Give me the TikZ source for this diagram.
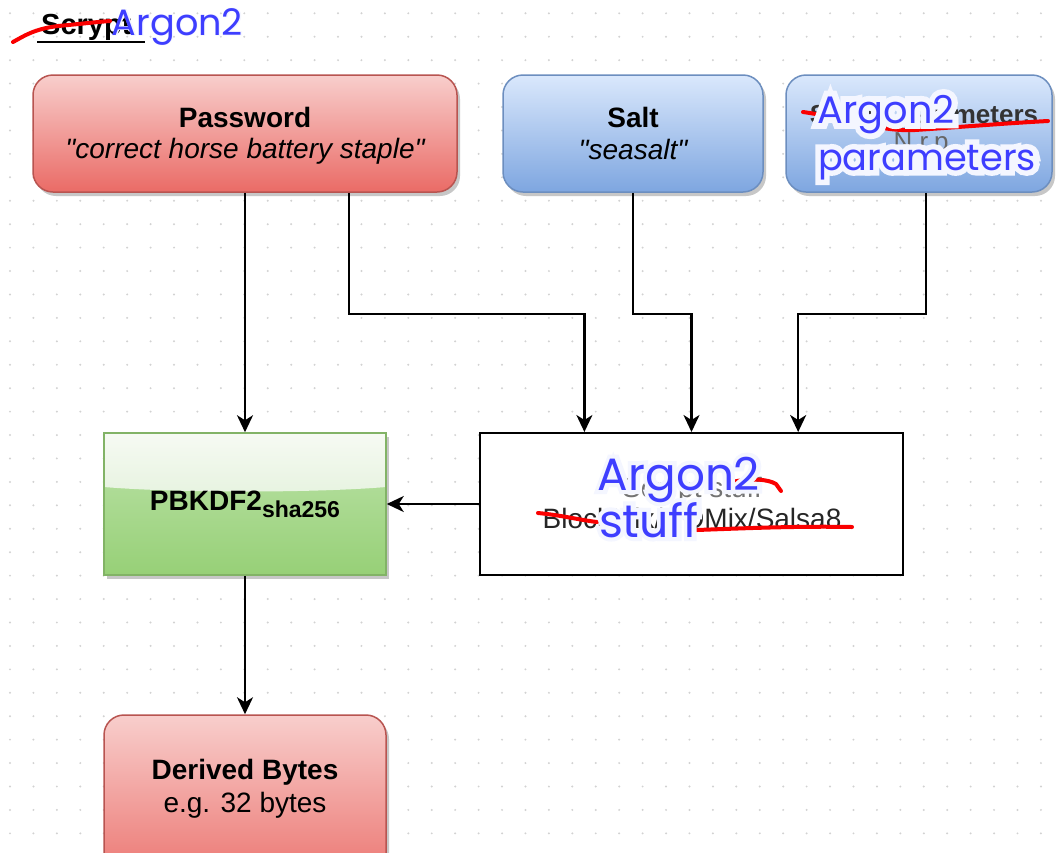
\documentclass[tikz,border=0pt]{standalone}
\usepackage{fontspec}
\setmainfont{Liberation Sans}
\newfontfamily\handfont{Poppins}
\newfontfamily\halothin[FakeBold=3]{Poppins}
\newfontfamily\halomid[FakeBold=18]{Poppins}
\newfontfamily\halothick[FakeBold=30]{Poppins}
\usetikzlibrary{arrows.meta,calc,shadows}

\definecolor{redtop}{HTML}{F8CECC}
\definecolor{redbot}{HTML}{EA6B66}
\definecolor{redline}{HTML}{B85450}
\definecolor{bluetop}{HTML}{DAE8FC}
\definecolor{bluebot}{HTML}{7EA6E0}
\definecolor{blueline}{HTML}{6C8EBF}
\definecolor{greentop}{HTML}{BDE3AA}
\definecolor{greenbot}{HTML}{97D077}
\definecolor{greenline}{HTML}{82B366}
\definecolor{glasstop}{HTML}{F6FAF3}
\definecolor{glassbot}{HTML}{D3EAC7}
\definecolor{dotgray}{HTML}{D2D2D2}
\definecolor{inkblue}{RGB}{62,62,255}
\definecolor{inkred}{RGB}{250,0,0}
\definecolor{halo}{HTML}{F4F6FF}

% blue handwriting with a pale halo underneath: #1 width, #2 halo font, #3 text
\newcommand\inked[3]{\resizebox{#1}{!}{\rlap{\color{halo}#2#3}{\color{inkblue}\handfont #3}}}

\tikzset{
  box/.style={inner sep=0pt, line width=1.5pt},
  shadowed/.style={drop shadow={shadow xshift=3pt, shadow yshift=-4pt, fill=black!22, opacity=1}},
  redbox/.style={box, shadowed, rounded corners=20pt, draw=redline, top color=redtop, bottom color=redbot},
  bluebox/.style={box, shadowed, rounded corners=20pt, draw=blueline, top color=bluetop, bottom color=bluebot},
  kdfbox/.style={box, shadowed, draw=greenline, top color=greentop, bottom color=greenbot},
  plainbox/.style={box, draw=black, fill=white, line width=2pt},
  wire/.style={line width=2.2pt, -{Stealth[length=17pt,width=16pt,inset=5pt]}},
  lbl/.style={inner sep=0pt, anchor=base},
  boldtxt/.style={lbl, font=\bfseries\fontsize{28}{31}\selectfont},
  plaintxt/.style={lbl, font=\fontsize{28}{31}\selectfont},
  itatxt/.style={lbl, font=\itshape\fontsize{28}{31}\selectfont},
  hand/.style={inner sep=0pt, anchor=base},
  scribble/.style={line width=4pt, draw=inkred, line cap=round, line join=round}
}

\begin{document}
\begin{tikzpicture}[x=1pt, y=-1pt]
\path[use as bounding box, clip] (0,0) rectangle (1056,852);
\fill[white] (0,0) rectangle (1056,852);

% dotted page grid
\foreach \i in {0,...,44}{
  \foreach \j in {0,...,36}{
    \fill[dotgray] ({10+23.43*\i},{13.3+23.43*\j}) circle (1.1pt);
  }
}

% boxes
\node[redbox, minimum width=424pt, minimum height=117pt] (pw) at (245,133.5) {};
\node[bluebox, minimum width=260pt, minimum height=117pt] (salt) at (633,133.5) {};
\node[bluebox, minimum width=266pt, minimum height=117pt] (par) at (919,133.5) {};
\node[kdfbox, minimum width=282pt, minimum height=142pt,
  path picture={
    \shade[top color=glasstop, bottom color=glassbot]
      (path picture bounding box.north west) -- (path picture bounding box.north east)
      -- ($(path picture bounding box.north east)+(0,54)$)
      .. controls ($(path picture bounding box.north)+(70,60)$) and ($(path picture bounding box.north)+(-70,60)$)
      .. ($(path picture bounding box.north west)+(0,54)$) -- cycle;
  }] (kdf) at (245,504) {};
\node[plainbox, minimum width=423pt, minimum height=142pt] (stuff) at (691.5,504) {};
\node[redbox, minimum width=282pt, minimum height=185pt] (der) at (245,807.5) {};

% connectors
\draw[wire] (pw.south) -- (kdf.north);
\draw[wire] ($(pw.south west)!0.745!(pw.south east)$) -- ++(0,121)
  -| ($(stuff.north west)!0.248!(stuff.north east)$);
\draw[wire] (salt.south) -- ++(0,121) -| (stuff.north);
\draw[wire] ($(par.south west)!0.526!(par.south east)$) -- ++(0,121)
  -| ($(stuff.north west)!0.751!(stuff.north east)$);
\draw[wire] (stuff.west) -- (kdf.east);
\draw[wire] (kdf.south) -- (der.north);

% box texts
\node[boldtxt] (pwname) at (245,127) {Password};
\node[itatxt] (pwval) at (245,158) {\textquotedbl correct horse battery staple\textquotedbl};
\node[boldtxt] (saltname) at (633,127) {Salt};
\node[itatxt] (saltval) at (633,159) {\textquotedbl seasalt\textquotedbl};
\node[boldtxt] (kdfname) at (245,510) {PBKDF2\raisebox{-7pt}{\fontsize{23}{23}\selectfont sha256}};
\node[boldtxt] (dername) at (245,779) {Derived Bytes};
\node[plaintxt] (derval) at (245,812) {e.g. 32 bytes};

% earlier labels, struck through
\node[lbl, anchor=base west, font=\bfseries\fontsize{29}{32}\selectfont] (oldtitle) at (41,34) {Scrypt};
\node[lbl, font=\bfseries\fontsize{26}{30}\selectfont, text=black!80] (oldpar) at (924,123) {Scrypt parameters};
\node[lbl, font=\fontsize{26}{30}\selectfont, text=black!60] (oldnrp) at (921,150) {N,r,p};
\node[plaintxt, text=black!55] (oldstuff) at (692,497) {Scrypt stuff};
\node[plaintxt, text=black!85] (oldmix) at (692,528) {BlockMix/ROMix/Salsa8};

% red strike marks
\draw[scribble] (13,42) .. controls (24,36) and (34,29) .. (58,26) .. controls (80,24) and (96,22) .. (110,21);
\draw[scribble] (803,112) .. controls (840,117) and (880,132) .. (915,130)
  .. controls (960,127) and (1010,123) .. (1048,121);
\draw[scribble] (732,482) .. controls (750,478) and (768,479) .. (776,484) -- (781,491);
\draw[scribble] (538,513) .. controls (560,515) and (580,520) .. (597,522);
\draw[scribble] (697,530) .. controls (750,528) and (800,526) .. (852,527);

% handwritten replacements
\node[hand] (newtitle) at (177.5,35) {\inked{131pt}{\halothin}{Argon2}};
\node[hand] (newpar1) at (886,123) {\inked{137pt}{\halothick}{Argon2}};
\node[hand] (newpar2) at (927,170) {\inked{218pt}{\halothick}{parameters}};
\node[hand] (newstuff1) at (679,490) {\inked{162pt}{\halomid}{Argon2}};
\node[hand] (newstuff2) at (649,537) {\inked{100pt}{\halomid}{stuff}};

% underline of the old title, running under the new one
\draw[line width=1.5pt] ($(oldtitle.base west)+(-4,8)$) -- ++(108,0);
\end{tikzpicture}
\end{document}
